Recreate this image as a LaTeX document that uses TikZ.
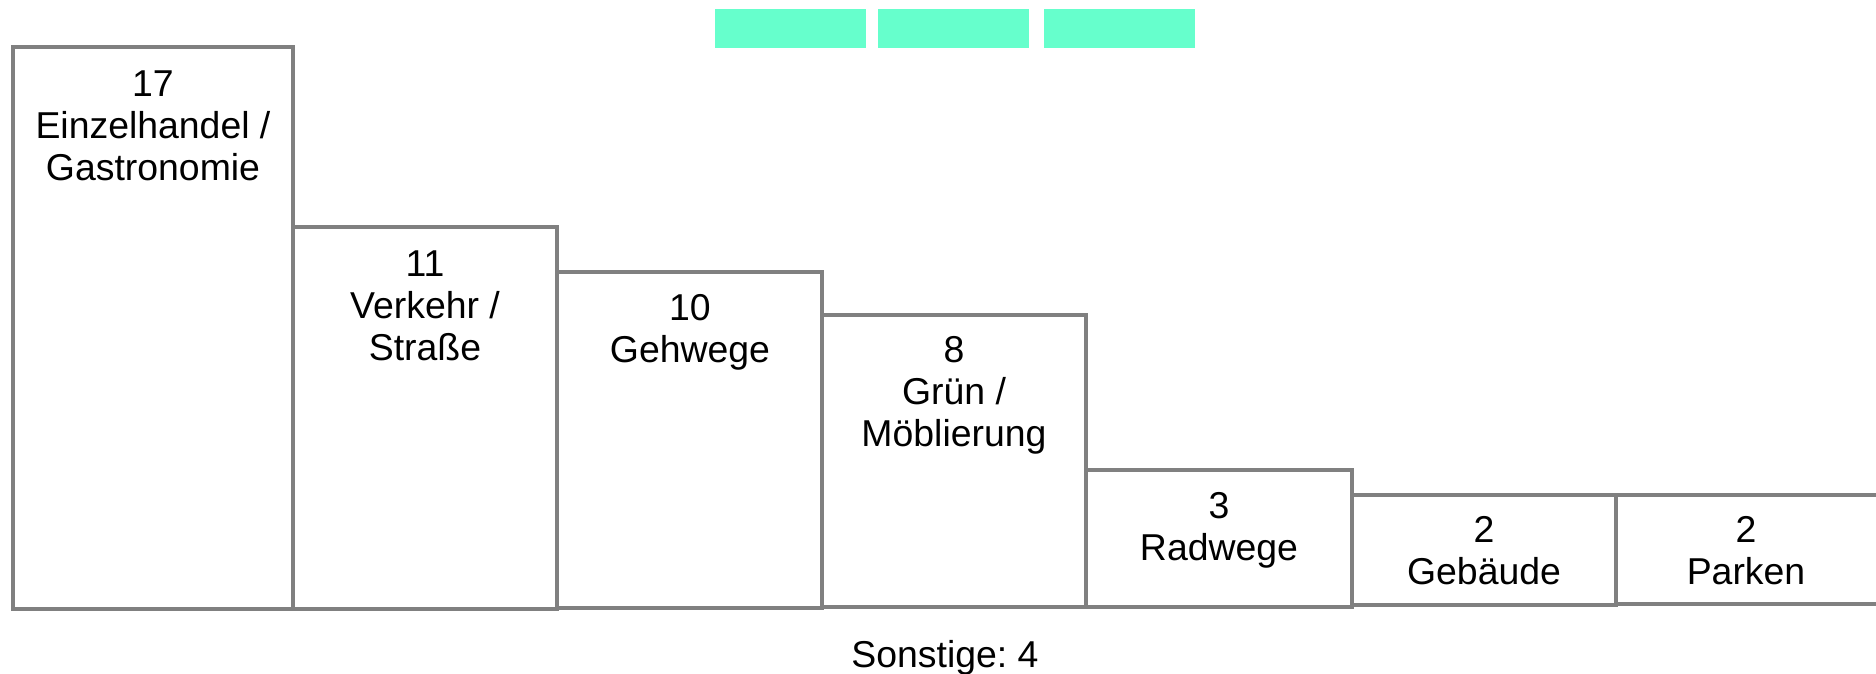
\documentclass[tikz,border=0pt]{standalone}
\usepackage{fontspec}
\setmainfont{Liberation Sans}
\frenchspacing
\definecolor{barline}{HTML}{808080}
\definecolor{swatchgreen}{HTML}{66FFCC}
\begin{document}
\begin{tikzpicture}[x=0.5pt, y=-0.5pt,
    bar/.style={draw=barline, line width=1.75pt},
    swatch/.style={fill=swatchgreen, draw=none, anchor=north west, inner sep=0pt, minimum width=75.5pt, minimum height=19.5pt},
    lbl/.style={anchor=north, align=center, inner sep=0pt, font=\fontsize{18.7}{21}\selectfont}]
  \useasboundingbox (0,0) rectangle (1876,674);

  \node[swatch] (s1) at (715,9) {};
  \node[swatch] (s2) at (878,9) {};
  \node[swatch] (s3) at (1044,9) {};

  \draw[bar] (13,609) rectangle (293,47);
  \draw[bar] (293,609) rectangle (557,227);
  \draw[bar] (557,608) rectangle (822,272);
  \draw[bar] (822,607) rectangle (1086,315);
  \draw[bar] (1086,607) rectangle (1352,470);
  \draw[bar] (1352,605) rectangle (1616,495);
  \draw[bar] (1616,604) rectangle (1890,495);

  \node[lbl] (einzel) at (153,70) {17\\Einzelhandel /\\Gastronomie};
  \node[lbl] (verkehr) at (425,250) {11\\Verkehr /\\Straße};
  \node[lbl] (gehwege) at (690,294) {10\\Gehwege};
  \node[lbl] (gruen) at (954,336) {8\\Grün /\\Möblierung};
  \node[lbl] (radwege) at (1219,492) {3\\Radwege};
  \node[lbl] (gebaeude) at (1484,516) {2\\Gebäude};
  \node[lbl] (parken) at (1746,516) {2\\Parken};

  \node[font=\fontsize{18.7}{21}\selectfont] (sonst) at (945,658) {Sonstige: 4};
\end{tikzpicture}
\end{document}
